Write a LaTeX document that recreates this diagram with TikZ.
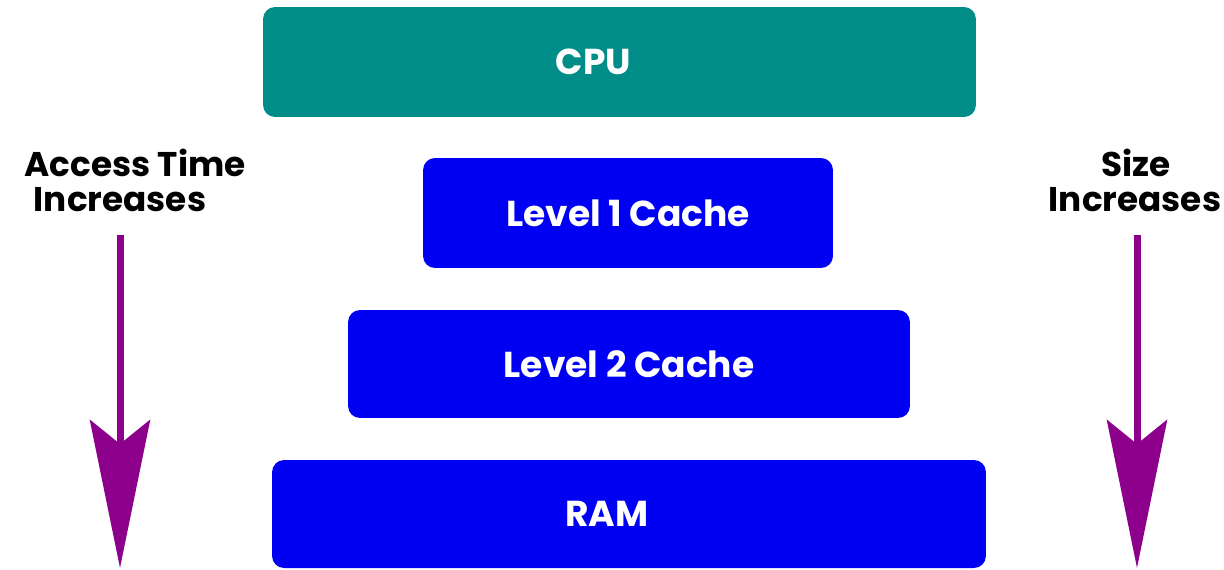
\documentclass[tikz,border=0pt]{standalone}
\usepackage{fontspec}
\setmainfont{Poppins}
\usetikzlibrary{arrows.meta,calc}
\definecolor{cputeal}{RGB}{0,140,135}
\definecolor{cacheblue}{RGB}{0,0,242}
\definecolor{arrowpurple}{RGB}{140,0,140}
\tikzset{
  membox/.style={rounded corners=0.24cm, draw=none, inner sep=0pt},
  boxtext/.style={text=white, font=\fontsize{20.5}{24}\selectfont\bfseries},
  sidetext/.style={text=black, font=\fontsize{19.5}{23}\selectfont\bfseries, inner sep=0pt},
  bigarrow/.style={arrowpurple, line width=0.14cm,
    -{Stealth[length=2.96cm, width=1.2cm, inset=0.48cm]}}
}
\begin{document}
\begin{tikzpicture}[x=0.02cm, y=-0.02cm]
    \useasboundingbox (0,0) rectangle (1224,569);
    %%memory levels
    \node[membox, fill=cputeal, minimum width=14.26cm, minimum height=2.2cm,
      label={[boxtext, xshift=-0.52cm]center:CPU}] (cpu) at (619.5,62) {};
    \node[membox, fill=cacheblue, minimum width=8.2cm, minimum height=2.2cm,
      label={[boxtext]center:Level 1 Cache}] (lone) at (628,213) {};
    \node[membox, fill=cacheblue, minimum width=11.24cm, minimum height=2.16cm,
      label={[boxtext]center:Level 2 Cache}] (ltwo) at (629,364) {};
    \node[membox, fill=cacheblue, minimum width=14.28cm, minimum height=2.16cm,
      label={[boxtext, xshift=-0.44cm]center:RAM}] (ram) at (629,514) {};
    %%left side
    \node[sidetext] (acctime) at (135,163) {Access Time};
    \node[sidetext] (accinc) at (120,200) {Increases};
    \coordinate (ltop) at (120,235);
    \coordinate (ltip) at (120,568);
    \draw[bigarrow] (ltop) to (ltip);
    %%right side
    \node[sidetext] (size) at (1136,163) {Size};
    \node[sidetext] (sizeinc) at (1135,200) {Increases};
    \coordinate (rtop) at (1137,235);
    \coordinate (rtip) at (1137,568);
    \draw[bigarrow] (rtop) to (rtip);
\end{tikzpicture}
\end{document}
